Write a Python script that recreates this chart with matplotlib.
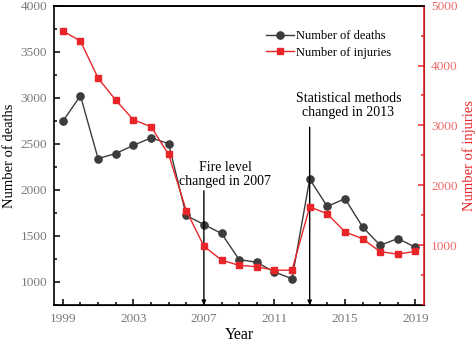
import matplotlib.pyplot as plt
from matplotlib.ticker import MultipleLocator

# Datos
years = list(range(1999, 2020))
deaths = [2745, 3022, 2340, 2395, 2483, 2565, 2502, 1722, 1624, 1527, 1243,
          1214, 1108, 1035, 2117, 1820, 1905, 1598, 1398, 1472, 1376]
injuries = [4578, 4410, 3790, 3423, 3095, 2980, 2515, 1578, 983, 750, 662,
            640, 580, 583, 1640, 1523, 1222, 1106, 890, 850, 896]
year_ticks = [1999, 2003, 2007, 2011, 2015, 2019]

plt.rcParams['font.family'] = ['Liberation Serif', 'DejaVu Serif']

fig = plt.figure(figsize=(4.77, 3.46), dpi=100)
ax = fig.add_axes([0.1132, 0.1185, 0.7763, 0.865])
ax2 = ax.twinx()

gris = '#3c3c3c'
rojo = '#e8262a'

l1, = ax.plot(years, deaths, color=gris, marker='o', ms=5.2, lw=1.0,
              label='Number of deaths')
l2, = ax2.plot(years, injuries, color=rojo, marker='s', ms=4.6, lw=1.0,
               label='Number of injuries')

ax.set_xlim(1998.5, 2019.5)
ax.set_ylim(750, 4000)
ax2.set_ylim(0, 5000)

ax.set_xticks(year_ticks)
ax.xaxis.set_minor_locator(MultipleLocator(1))
ax.set_yticks([1000, 1500, 2000, 2500, 3000, 3500, 4000])
ax.yaxis.set_minor_locator(MultipleLocator(250))
ax2.set_yticks([1000, 2000, 3000, 4000, 5000])
ax2.yaxis.set_minor_locator(MultipleLocator(500))

ax.tick_params(axis='both', which='both', direction='in', labelsize=9.6,
               labelcolor='#7a7a7a', width=1.1)
ax.tick_params(which='major', length=4)
ax.tick_params(which='minor', length=2.5)
ax.tick_params(axis='x', pad=6)
ax.tick_params(axis='y', pad=5)
ax2.tick_params(axis='y', which='both', direction='in', labelsize=9.6,
                labelcolor='#ee6b6b', color=rojo, width=1.1, pad=5)
ax2.tick_params(which='major', length=4)
ax2.tick_params(which='minor', length=2.5)

for s in ['left', 'bottom', 'top']:
    ax.spines[s].set_linewidth(1.2)
ax2.spines['right'].set_color(rojo)
ax2.spines['right'].set_linewidth(1.2)
ax2.spines['left'].set_visible(False)
ax2.spines['top'].set_linewidth(1.2)

ax.set_xlabel('Year', fontsize=11.5, labelpad=1)
ax.set_ylabel('Number of deaths', fontsize=10.5, labelpad=3)
ax2.set_ylabel('Number of injuries', fontsize=10.5, color=rojo, labelpad=3)

# Flechas y textos
ax.annotate('', xy=(2007, 750), xytext=(2007, 1990),
            arrowprops=dict(arrowstyle='-|>', color='black', lw=1.0,
                            mutation_scale=6, shrinkA=0, shrinkB=0))
ax.text(2008.2, 2170, 'Fire level\nchanged in 2007', ha='center', va='center',
        fontsize=10, linespacing=1.1)
ax.annotate('', xy=(2013, 750), xytext=(2013, 2680),
            arrowprops=dict(arrowstyle='-|>', color='black', lw=1.0,
                            mutation_scale=6, shrinkA=0, shrinkB=0))
ax.text(2015.2, 2920, 'Statistical methods\nchanged in 2013', ha='center',
        va='center', fontsize=10, linespacing=1.1)

ax.legend([l1, l2], ['Number of deaths', 'Number of injuries'],
          loc='upper left', bbox_to_anchor=(0.56, 0.935), frameon=False,
          fontsize=9, handlelength=2.2, handletextpad=0.2, labelspacing=0.35,
          borderaxespad=0)

plt.savefig('out.png', dpi=100)
